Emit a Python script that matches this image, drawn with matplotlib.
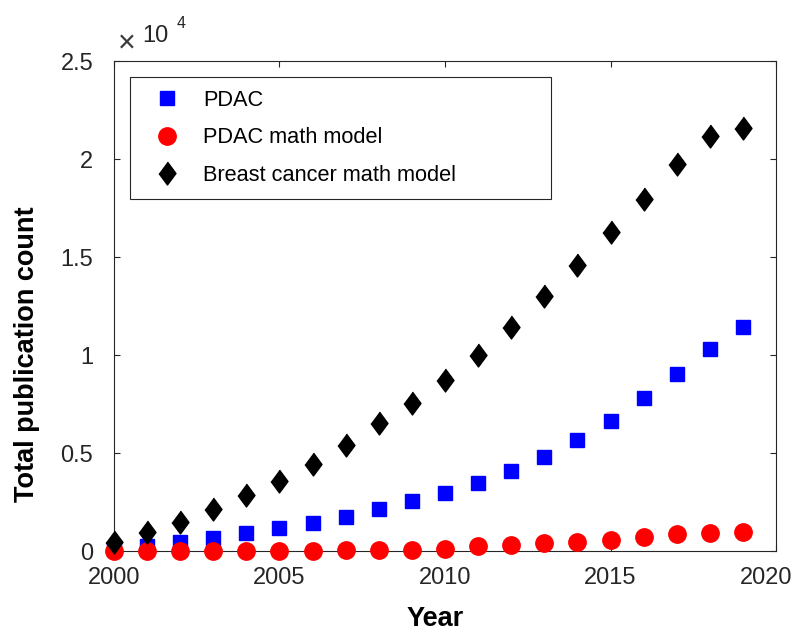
import matplotlib
matplotlib.use("Agg")
import matplotlib.pyplot as plt
from matplotlib.ticker import FuncFormatter
from matplotlib.patches import Rectangle
from matplotlib.transforms import ScaledTranslation

plt.rcParams['font.family'] = ['Liberation Sans', 'DejaVu Sans']

years = list(range(2000, 2020))

pdac = [100, 250, 470, 690, 900, 1160, 1430, 1760, 2150, 2570,
        2980, 3450, 4080, 4800, 5680, 6650, 7810, 9010, 10290, 11450]

pdac_model = [0, 0, 0, 0, 0, 10, 20, 30, 40, 50,
              90, 250, 310, 390, 480, 560, 730, 850, 940, 960]

breast_model = [470, 950, 1500, 2130, 2840, 3570, 4440, 5410, 6550, 7550,
                8720, 10000, 11430, 13000, 14590, 16260, 17980, 19740, 21170, 21580]

labels = ['PDAC', 'PDAC math model', 'Breast cancer math model']

fig = plt.figure(figsize=(7.97, 6.33), dpi=100)
ax = fig.add_axes([0.143, 0.1295, 0.8307, 0.7741])

diamond = [(0, 1), (0.74, 0), (0, -1), (-0.74, 0)]

ax.plot(years, pdac, 's', color='#0000ff', ms=9.7, label=labels[0], zorder=3)
ax.plot(years, pdac_model, 'o', color='#ff0000', ms=12.5, label=labels[1], zorder=4)
ax.plot(years, breast_model, marker=diamond, ls='none', color='black', ms=16.5,
        label=labels[2], zorder=5)

ax.set_xlim(2000, 2020)
ax.set_ylim(0, 25000)
ax.set_xticks([2000, 2005, 2010, 2015, 2020])
ax.set_yticks([0, 5000, 10000, 15000, 20000, 25000])
ax.yaxis.set_major_formatter(FuncFormatter(lambda v, p: '%g' % (v / 1e4)))

ax.tick_params(direction='in', top=True, right=True, length=4.6, width=0.8,
               labelsize=17, colors='#262626')
ax.tick_params(axis='x', pad=11.5)
ax.tick_params(axis='y', pad=15)
for s in ax.spines.values():
    s.set_color('#262626')
    s.set_linewidth(0.8)
for ln in ax.lines:
    ln.set_clip_on(False)

# MATLAB nudges the last x label inside the figure
last = ax.get_xticklabels()[-1]
last.set_transform(last.get_transform() + ScaledTranslation(-0.10, 0, fig.dpi_scale_trans))

ax.set_xlabel('Year', fontsize=19.5, fontweight='bold')
ax.set_ylabel('Total publication count', fontsize=19.5, fontweight='bold')
ax.xaxis.set_label_coords(0.485, -0.112)
ax.yaxis.set_label_coords(-0.112, 0.401)

fig.text(0.1587, 0.9297, '\u00d7', fontsize=22, color='#3a3a3a', ha='center', va='center')
fig.text(0.178, 0.9336, '10', fontsize=17, color='#262626', va='baseline')
fig.text(0.222, 0.9558, '4', fontsize=11.5, color='#262626', va='baseline')

box = Rectangle((0.0242, 0.718), 0.636, 0.249, transform=ax.transAxes,
                facecolor='white', edgecolor='#262626', lw=0.8, zorder=6)
ax.add_patch(box)

leg = ax.legend(loc='upper left', bbox_to_anchor=(0.0634, 0.941), fontsize=15.7,
                frameon=False, handlelength=1.0, handletextpad=1.15, borderpad=0,
                labelspacing=0.75, borderaxespad=0)
leg.set_zorder(7)

fig.savefig('out.png', dpi=100)
